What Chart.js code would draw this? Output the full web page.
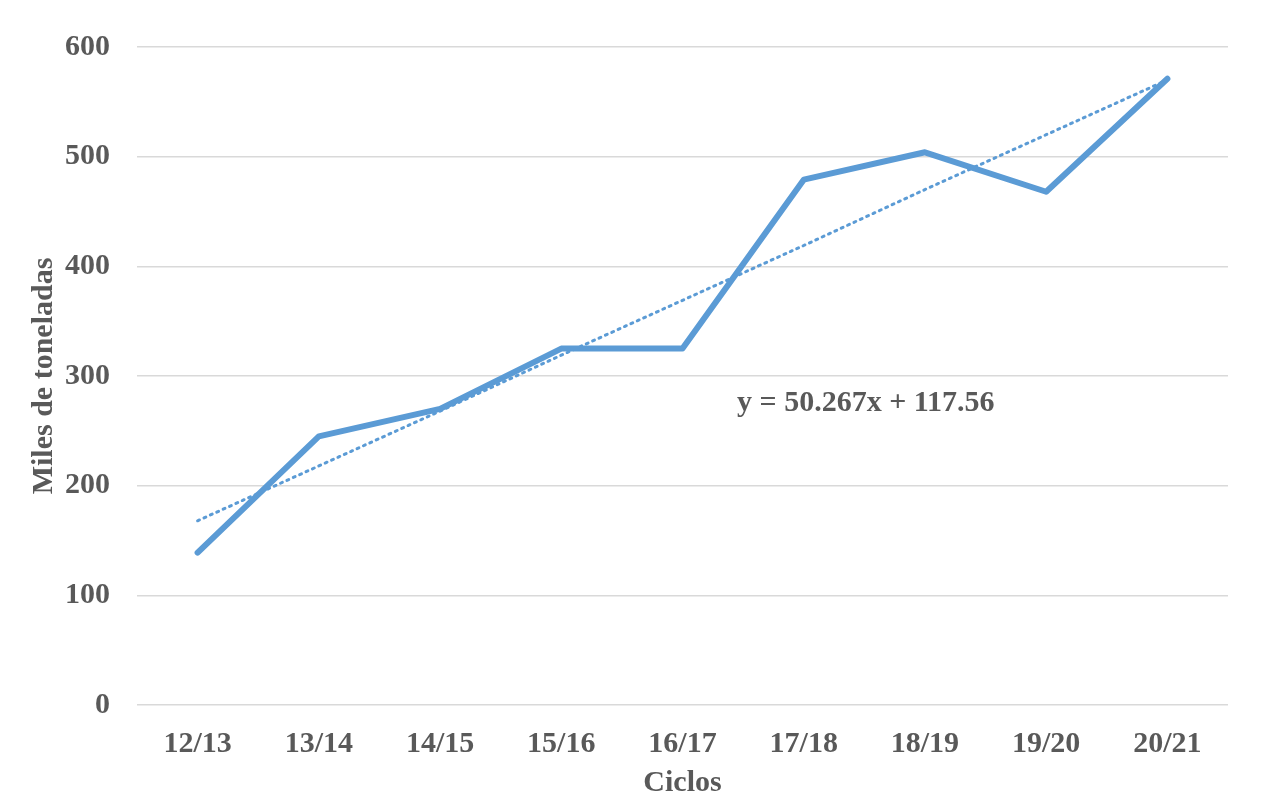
<!DOCTYPE html>
<html>
<head>
<meta charset="utf-8">
<script src="https://cdn.jsdelivr.net/npm/chart.js@4/dist/chart.umd.min.js"></script>
<style>
  html, body { margin: 0; padding: 0; background: #fff; }
  #grafico { display: block; }
</style>
</head>
<body>
<canvas id="grafico" width="1265" height="805"></canvas>
<script>
// --- Datos ---
const ciclos = ["12/13", "13/14", "14/15", "15/16", "16/17", "17/18", "18/19", "19/20", "20/21"];
const milesToneladas = [139, 245, 270, 325, 325, 479, 504, 468, 571];
// linea de tendencia (y = 50.267x + 117.56)
const tendencia = [168, 218, 268, 319, 369, 419, 470, 520, 570];
const ecuacion = "y = 50.267x + 117.56";
const ticksY = [0, 100, 200, 300, 400, 500, 600];

const gris = '#595959';
const azul = '#5B9BD5';
const fuente = { family: '"Liberation Serif", "Times New Roman", serif', size: 30, weight: 'bold' };

// Etiqueta de la ecuacion
const etiquetaEcuacion = {
  id: 'etiquetaEcuacion',
  afterDatasetsDraw(chart) {
    const { ctx, scales } = chart;
    const x = scales.x.getPixelForValue(4.45);
    const y = scales.y.getPixelForValue(275);
    ctx.save();
    ctx.font = `bold 30px ${fuente.family}`;
    ctx.fillStyle = gris;
    ctx.textAlign = 'left';
    ctx.textBaseline = 'middle';
    ctx.fillText(ecuacion, x, y);
    ctx.restore();
  }
};

new Chart(document.getElementById('grafico'), {
  type: 'line',
  data: {
    labels: ciclos,
    datasets: [
      {
        label: 'Miles de toneladas',
        data: milesToneladas,
        borderColor: azul,
        borderWidth: 6,
        pointRadius: 0,
        tension: 0,
        borderCapStyle: 'round',
        borderJoinStyle: 'round',
        order: 1
      },
      {
        label: 'Tendencia',
        data: tendencia,
        borderColor: azul,
        borderWidth: 3,
        borderDash: [2, 5],
        borderCapStyle: 'round',
        pointRadius: 0,
        tension: 0,
        order: 2
      }
    ]
  },
  options: {
    responsive: false,
    animation: false,
    layout: { padding: { top: 47, right: 37, bottom: 0, left: 22 } },
    plugins: {
      legend: { display: false },
      tooltip: { enabled: false }
    },
    scales: {
      x: {
        offset: true,
        grid: { display: false },
        border: { display: false },
        ticks: { color: gris, font: fuente, padding: 13, maxRotation: 0 },
        title: { display: true, text: 'Ciclos', color: gris, font: fuente, padding: { top: 2 } },
        afterFit(scale) { scale.height = 100; }
      },
      y: {
        min: 0,
        max: 600,
        afterBuildTicks(scale) { scale.ticks = ticksY.map(v => ({ value: v })); },
        grid: { color: '#d9d9d9', lineWidth: 1.5, drawTicks: false },
        border: { display: false },
        ticks: { color: gris, font: fuente, padding: 27 },
        title: { display: true, text: 'Miles de toneladas', color: gris, font: fuente, padding: { bottom: 4 } },
        afterFit(scale) { scale.width = 115; }
      }
    }
  },
  plugins: [etiquetaEcuacion]
});
</script>
</body>
</html>
